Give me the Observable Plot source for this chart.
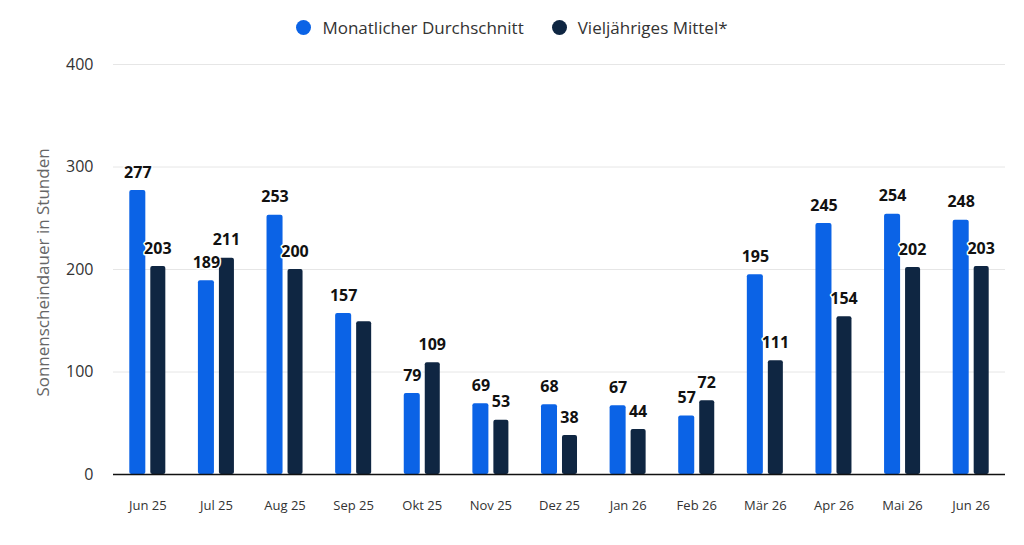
<!DOCTYPE html>
<html><head><meta charset="utf-8">
<script src="https://cdn.jsdelivr.net/npm/d3@7"></script>
<script src="https://cdn.jsdelivr.net/npm/@observablehq/plot@0.6"></script>
<style>
body{margin:0;background:#fff;font-family:"Open Sans",sans-serif;}
#wrap{position:relative;width:1024px;height:545px;}
#legend{position:absolute;top:16px;left:0;width:1024px;text-align:center;font-size:17px;color:#333;}
#legend span.item{display:inline-flex;align-items:center;margin:0 14px;}
#legend span.dot{display:inline-block;width:15px;height:15px;border-radius:50%;margin-right:11px;}
</style></head>
<body><div id="wrap"><div id="legend"></div><div id="chart"></div></div>
<script>
const months = ["Jun 25","Jul 25","Aug 25","Sep 25","Okt 25","Nov 25","Dez 25","Jan 26","Feb 26","Mär 26","Apr 26","Mai 26","Jun 26"];
const monatlich = [277,189,253,157,79,69,68,67,57,195,245,254,248];
const mittel = [203,211,200,149,109,53,38,44,72,111,154,202,203];
// label of the long-term mean that the reference hides (overlap)
const hiddenMittelLabels = ["Sep 25"];
const seriesNames = ["Monatlicher Durchschnitt","Vieljähriges Mittel*"];
const colors = ["#0b63e6","#0f2642"];
const yTicks = [0,100,200,300,400];

const dataA = months.map((m,i)=>({month:m,value:monatlich[i]}));
const dataB = months.map((m,i)=>({month:m,value:mittel[i]}));

document.getElementById("legend").innerHTML = seriesNames.map((s,i)=>
  `<span class="item"><span class="dot" style="background:${colors[i]}"></span>${s}</span>`).join("");

const chart = Plot.plot({
  width:1024, height:545,
  marginTop:64, marginBottom:71, marginLeft:113, marginRight:19,
  style:{fontFamily:"Open Sans, sans-serif", background:"transparent"},
  x:{domain:months, paddingInner:0.475, paddingOuter:0.2375, round:false, label:null},
  y:{domain:[0,400], ticks:yTicks, label:null},
  marks:[
    Plot.gridY(yTicks.filter(d=>d>0), {stroke:"#e6e6e6", strokeOpacity:1, strokeWidth:1}),
    Plot.axisY({ticks:yTicks, tickSize:0, tickPadding:20, fontSize:16, fill:"#333", label:null}),
    Plot.text(["Sonnenscheindauer in Stunden"], {frameAnchor:"left", textAnchor:"middle", dx:-70, dy:3, rotate:-90, fontSize:17, fill:"#666"}),
    Plot.axisX({tickSize:0, tickPadding:26, fontSize:13, fill:"#333", label:null}),
    Plot.barY(dataA, {x:"month", y:"value", fill:colors[0], insetRight:20, rx:2}),
    Plot.barY(dataB, {x:"month", y:"value", fill:colors[1], insetLeft:21, rx:2}),
    Plot.ruleY([0], {stroke:"#111", strokeWidth:1.5}),
    Plot.text(dataA, {x:"month", y:"value", text:d=>String(d.value), dx:-10, dy:-18, fontSize:16, fontWeight:"bold", fill:"#111", stroke:"white", strokeWidth:3}),
    Plot.text(dataB.filter(d=>!hiddenMittelLabels.includes(d.month)), {x:"month", y:"value", text:d=>String(d.value), dx:10, dy:-18, fontSize:16, fontWeight:"bold", fill:"#111", stroke:"white", strokeWidth:3})
  ]
});
document.getElementById("chart").appendChild(chart);
</script></body></html>
